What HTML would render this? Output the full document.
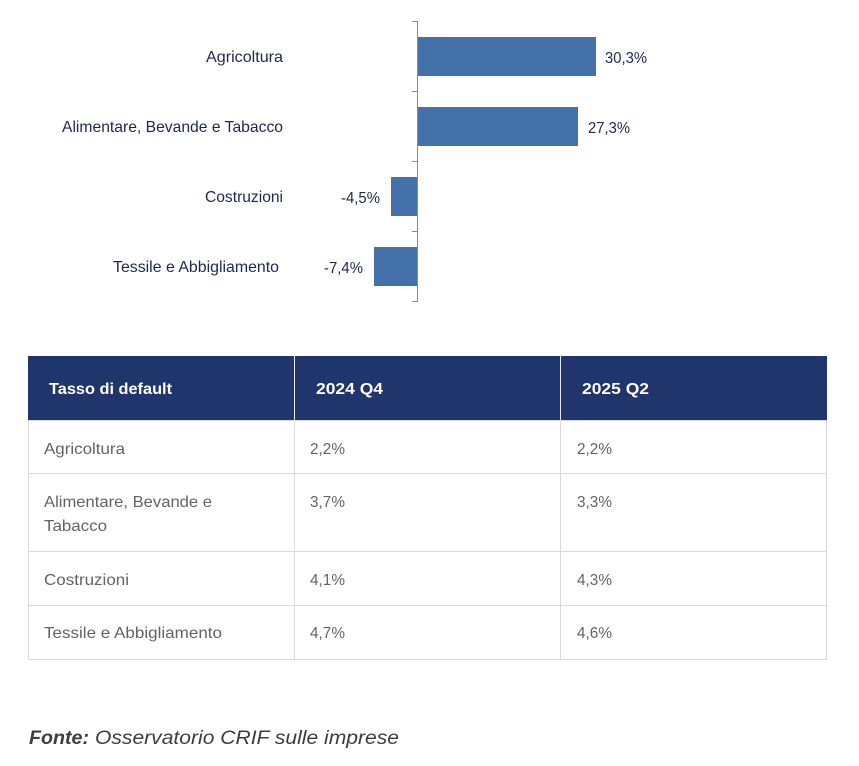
<!DOCTYPE html>
<html>
<head>
<meta charset="utf-8">
<style>
html,body{margin:0;padding:0;background:#fff;}
body{width:859px;height:766px;overflow:hidden;}
svg{display:block;}
</style>
</head>
<body>
<svg width="859" height="766" viewBox="0 0 859 766" xmlns="http://www.w3.org/2000/svg">
  <rect x="0" y="0" width="859" height="766" fill="#ffffff"/>

  <!-- Chart -->
  <g font-family="Liberation Sans, Arial, sans-serif" font-size="16" fill="#1c2850">
    <text x="283" y="62" text-anchor="end" textLength="77" lengthAdjust="spacingAndGlyphs">Agricoltura</text>
    <text x="283" y="132" text-anchor="end" textLength="221" lengthAdjust="spacingAndGlyphs">Alimentare, Bevande e Tabacco</text>
    <text x="283" y="202" text-anchor="end" textLength="78" lengthAdjust="spacingAndGlyphs">Costruzioni</text>
    <text x="279" y="272" text-anchor="end" textLength="166" lengthAdjust="spacingAndGlyphs">Tessile e Abbigliamento</text>

    <text x="605" y="63" textLength="42" lengthAdjust="spacingAndGlyphs">30,3%</text>
    <text x="588" y="133" textLength="42" lengthAdjust="spacingAndGlyphs">27,3%</text>
    <text x="341" y="203" textLength="39" lengthAdjust="spacingAndGlyphs">-4,5%</text>
    <text x="324" y="273" textLength="39" lengthAdjust="spacingAndGlyphs">-7,4%</text>
  </g>

  <g fill="#4471a9">
    <rect x="417" y="37" width="179" height="39"/>
    <rect x="417" y="107" width="161" height="39"/>
    <rect x="391" y="177" width="26" height="39"/>
    <rect x="374" y="247" width="43" height="39"/>
  </g>

  <g stroke="#8c8c8c" stroke-width="1">
    <line x1="417.5" y1="21" x2="417.5" y2="302"/>
    <line x1="412" y1="21.5" x2="418" y2="21.5"/>
    <line x1="412" y1="91.5" x2="418" y2="91.5"/>
    <line x1="412" y1="161.5" x2="418" y2="161.5"/>
    <line x1="412" y1="231.5" x2="418" y2="231.5"/>
    <line x1="412" y1="301.5" x2="418" y2="301.5"/>
  </g>

  <!-- Table -->
  <rect x="28" y="356" width="799" height="64" fill="#1f356b"/>
  <g stroke="#e6e9f0" stroke-width="1">
    <line x1="294.5" y1="356" x2="294.5" y2="420"/>
    <line x1="560.5" y1="356" x2="560.5" y2="420"/>
  </g>
  <g stroke="#d9d9d9" stroke-width="1" fill="none">
    <line x1="28.5" y1="420" x2="28.5" y2="659"/>
    <line x1="294.5" y1="420" x2="294.5" y2="659"/>
    <line x1="560.5" y1="420" x2="560.5" y2="659"/>
    <line x1="826.5" y1="420" x2="826.5" y2="659"/>
    <line x1="28" y1="420.5" x2="827" y2="420.5"/>
    <line x1="28" y1="473.5" x2="827" y2="473.5"/>
    <line x1="28" y1="551.5" x2="827" y2="551.5"/>
    <line x1="28" y1="605.5" x2="827" y2="605.5"/>
    <line x1="28" y1="659.5" x2="827" y2="659.5"/>
  </g>

  <g font-family="Liberation Sans, Arial, sans-serif" font-size="16" font-weight="bold" fill="#ffffff">
    <text x="49" y="394" textLength="123" lengthAdjust="spacingAndGlyphs">Tasso di default</text>
    <text x="316" y="394" textLength="67" lengthAdjust="spacingAndGlyphs">2024 Q4</text>
    <text x="582" y="394" textLength="67" lengthAdjust="spacingAndGlyphs">2025 Q2</text>
  </g>

  <g font-family="Liberation Sans, Arial, sans-serif" font-size="16" fill="#636363">
    <text x="44" y="454" textLength="81" lengthAdjust="spacingAndGlyphs">Agricoltura</text>
    <text x="310" y="454" textLength="35" lengthAdjust="spacingAndGlyphs">2,2%</text>
    <text x="577" y="454" textLength="35" lengthAdjust="spacingAndGlyphs">2,2%</text>

    <text x="44" y="507" textLength="168" lengthAdjust="spacingAndGlyphs">Alimentare, Bevande e</text>
    <text x="44" y="531" textLength="63" lengthAdjust="spacingAndGlyphs">Tabacco</text>
    <text x="310" y="507" textLength="35" lengthAdjust="spacingAndGlyphs">3,7%</text>
    <text x="577" y="507" textLength="35" lengthAdjust="spacingAndGlyphs">3,3%</text>

    <text x="44" y="585" textLength="85" lengthAdjust="spacingAndGlyphs">Costruzioni</text>
    <text x="310" y="585" textLength="35" lengthAdjust="spacingAndGlyphs">4,1%</text>
    <text x="577" y="585" textLength="35" lengthAdjust="spacingAndGlyphs">4,3%</text>

    <text x="44" y="638" textLength="178" lengthAdjust="spacingAndGlyphs">Tessile e Abbigliamento</text>
    <text x="310" y="638" textLength="35" lengthAdjust="spacingAndGlyphs">4,7%</text>
    <text x="577" y="638" textLength="35" lengthAdjust="spacingAndGlyphs">4,6%</text>
  </g>

  <!-- Source -->
  <g font-family="Liberation Sans, Arial, sans-serif" font-size="19" font-style="italic" fill="#3d3d3d">
    <text x="29" y="744" font-weight="bold" textLength="60" lengthAdjust="spacingAndGlyphs">Fonte:</text>
    <text x="95" y="744" textLength="304" lengthAdjust="spacingAndGlyphs">Osservatorio CRIF sulle imprese</text>
  </g>
</svg>
</body>
</html>
